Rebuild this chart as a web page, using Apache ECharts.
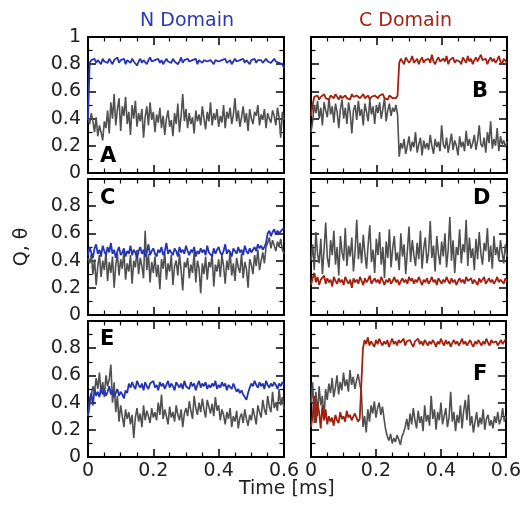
<!DOCTYPE html>
<html>
<head>
<meta charset="utf-8">
<script src="https://cdn.jsdelivr.net/npm/echarts@6/dist/echarts.min.js"></script>
<style>
  html, body { margin: 0; background: #fff; }
  #chart { width: 524px; height: 511px; }
</style>
</head>
<body>
<div id="chart"></div>
<script>
// sampling step of every trace (ms), index i sits at t = i * STEP
const STEP = 0.005;

// Panel A, N domain
const aQ = [0.40,
  0.81,0.83,0.82,0.84,0.81,0.83,0.82,0.80,0.84,0.82,
  0.83,0.81,0.84,0.82,0.80,0.83,0.82,0.85,0.81,0.83,
  0.82,0.84,0.80,0.83,0.82,0.81,0.84,0.82,0.83,0.79,
  0.82,0.84,0.81,0.83,0.82,0.80,0.83,0.85,0.82,0.81,
  0.83,0.82,0.84,0.81,0.83,0.80,0.82,0.84,0.82,0.83,
  0.81,0.84,0.82,0.83,0.80,0.82,0.85,0.81,0.83,0.82,
  0.84,0.82,0.81,0.83,0.82,0.84,0.80,0.83,0.82,0.81,
  0.83,0.84,0.82,0.81,0.83,0.82,0.80,0.83,0.84,0.82,
  0.81,0.83,0.82,0.84,0.81,0.82,0.83,0.80,0.82,0.84,
  0.82,0.81,0.83,0.82,0.84,0.81,0.83,0.82,0.80,0.83,
  0.82,0.84,0.81,0.83,0.82,0.83,0.81,0.82,0.84,0.82,
  0.83,0.81,0.82,0.84,0.82,0.83,0.81,0.82,0.80,0.77];
const aTheta = [0.40,
  0.36,0.44,0.38,0.30,0.41,0.27,0.35,0.30,0.24,0.38,
  0.33,0.46,0.29,0.52,0.40,0.58,0.35,0.47,0.55,0.31,
  0.49,0.42,0.56,0.36,0.45,0.28,0.50,0.40,0.53,0.34,
  0.44,0.38,0.47,0.26,0.41,0.49,0.35,0.52,0.39,0.45,
  0.30,0.43,0.37,0.48,0.33,0.42,0.28,0.40,0.46,0.34,
  0.39,0.27,0.44,0.36,0.51,0.30,0.42,0.58,0.38,0.47,
  0.33,0.44,0.36,0.41,0.29,0.46,0.38,0.43,0.35,0.49,
  0.40,0.32,0.45,0.38,0.52,0.35,0.44,0.39,0.47,0.34,
  0.42,0.37,0.50,0.33,0.45,0.40,0.48,0.36,0.43,0.55,
  0.38,0.46,0.34,0.41,0.49,0.37,0.44,0.31,0.47,0.40,
  0.36,0.45,0.42,0.50,0.35,0.43,0.39,0.47,0.33,0.44,
  0.40,0.37,0.46,0.42,0.35,0.48,0.41,0.26,0.45,0.39];

// Panel B, C domain
const bQ = [0.42,
  0.50,0.56,0.55,0.57,0.54,0.56,0.55,0.58,0.55,0.56,
  0.54,0.57,0.56,0.55,0.58,0.56,0.54,0.57,0.55,0.56,
  0.57,0.55,0.56,0.54,0.58,0.56,0.55,0.57,0.56,0.55,
  0.56,0.58,0.55,0.56,0.57,0.54,0.56,0.55,0.57,0.56,
  0.55,0.57,0.56,0.58,0.55,0.56,0.54,0.57,0.56,0.55,
  0.56,0.55,0.57,0.81,0.84,0.82,0.80,0.85,0.83,0.81,
  0.83,0.86,0.81,0.82,0.84,0.80,0.83,0.85,0.81,0.83,
  0.82,0.84,0.81,0.87,0.82,0.80,0.83,0.85,0.82,0.81,
  0.84,0.82,0.86,0.80,0.83,0.82,0.85,0.81,0.83,0.84,
  0.82,0.80,0.85,0.83,0.81,0.86,0.82,0.84,0.80,0.83,
  0.85,0.82,0.81,0.87,0.83,0.82,0.84,0.80,0.83,0.85,
  0.82,0.84,0.81,0.83,0.86,0.82,0.80,0.84,0.83,0.81];
const bTheta = [0.30,
  0.38,0.50,0.44,0.53,0.40,0.48,0.35,0.52,0.46,0.41,
  0.55,0.43,0.49,0.37,0.51,0.45,0.33,0.47,0.54,0.40,
  0.48,0.36,0.52,0.44,0.29,0.46,0.50,0.39,0.53,0.42,
  0.47,0.35,0.51,0.45,0.38,0.54,0.43,0.49,0.36,0.50,
  0.44,0.52,0.40,0.47,0.55,0.38,0.46,0.51,0.42,0.48,
  0.45,0.50,0.43,0.12,0.22,0.18,0.25,0.14,0.20,0.27,
  0.16,0.23,0.19,0.30,0.15,0.21,0.26,0.13,0.24,0.18,
  0.22,0.17,0.28,0.20,0.14,0.25,0.19,0.23,0.16,0.35,
  0.21,0.18,0.26,0.15,0.22,0.29,0.17,0.24,0.20,0.13,
  0.27,0.19,0.23,0.16,0.31,0.20,0.25,0.18,0.22,0.28,
  0.17,0.24,0.35,0.21,0.19,0.26,0.15,0.30,0.22,0.38,
  0.18,0.25,0.20,0.33,0.16,0.27,0.21,0.24,0.19,0.23];

// Panel C, N domain
const cQ = [0.44,
  0.50,0.46,0.42,0.49,0.52,0.45,0.48,0.43,0.51,0.47,
  0.44,0.50,0.46,0.53,0.45,0.48,0.42,0.47,0.50,0.44,
  0.46,0.49,0.43,0.47,0.45,0.51,0.44,0.48,0.46,0.42,
  0.47,0.50,0.45,0.48,0.43,0.46,0.52,0.44,0.47,0.49,
  0.45,0.43,0.48,0.46,0.50,0.44,0.47,0.53,0.45,0.48,
  0.46,0.44,0.49,0.47,0.43,0.50,0.46,0.48,0.45,0.51,
  0.47,0.44,0.48,0.46,0.50,0.43,0.47,0.45,0.49,0.46,
  0.48,0.44,0.51,0.46,0.47,0.43,0.49,0.45,0.48,0.50,
  0.46,0.44,0.47,0.52,0.45,0.48,0.46,0.43,0.49,0.47,
  0.45,0.50,0.46,0.48,0.44,0.51,0.47,0.45,0.49,0.46,
  0.48,0.50,0.47,0.52,0.49,0.51,0.48,0.50,0.53,0.60,
  0.62,0.58,0.61,0.63,0.59,0.62,0.60,0.61,0.63,0.64];
const cTheta = [0.42,
  0.38,0.45,0.30,0.41,0.22,0.36,0.44,0.28,0.40,0.33,
  0.46,0.25,0.39,0.31,0.43,0.20,0.37,0.45,0.29,0.41,
  0.34,0.47,0.26,0.38,0.32,0.44,0.23,0.40,0.35,0.48,
  0.30,0.42,0.36,0.27,0.62,0.33,0.45,0.24,0.39,0.31,
  0.43,0.28,0.37,0.19,0.41,0.34,0.46,0.26,0.38,0.32,
  0.44,0.22,0.36,0.40,0.29,0.45,0.33,0.18,0.39,0.35,
  0.42,0.27,0.37,0.31,0.46,0.24,0.40,0.34,0.16,0.38,
  0.30,0.43,0.26,0.39,0.35,0.45,0.21,0.37,0.32,0.41,
  0.28,0.44,0.36,0.23,0.40,0.33,0.47,0.29,0.38,0.25,
  0.42,0.35,0.31,0.45,0.27,0.39,0.34,0.20,0.41,0.37,
  0.30,0.44,0.36,0.48,0.33,0.40,0.46,0.38,0.50,0.53,
  0.57,0.49,0.55,0.51,0.47,0.54,0.50,0.56,0.48,0.45];

// Panel D, C domain
const dQ = [0.22,
  0.27,0.31,0.24,0.28,0.22,0.26,0.25,0.29,0.23,0.27,
  0.24,0.26,0.21,0.28,0.25,0.23,0.27,0.24,0.26,0.22,
  0.28,0.25,0.23,0.26,0.20,0.27,0.24,0.26,0.23,0.28,
  0.25,0.22,0.27,0.24,0.26,0.29,0.23,0.25,0.27,0.24,
  0.26,0.23,0.28,0.25,0.22,0.26,0.24,0.27,0.23,0.25,
  0.28,0.24,0.26,0.22,0.25,0.27,0.24,0.26,0.23,0.28,
  0.25,0.27,0.23,0.26,0.24,0.28,0.25,0.22,0.26,0.24,
  0.27,0.23,0.25,0.28,0.24,0.26,0.22,0.27,0.25,0.23,
  0.26,0.24,0.28,0.25,0.23,0.27,0.24,0.26,0.22,0.25,
  0.27,0.24,0.26,0.23,0.28,0.25,0.24,0.27,0.23,0.26,
  0.25,0.22,0.27,0.24,0.26,0.28,0.23,0.25,0.27,0.24,
  0.26,0.23,0.25,0.28,0.24,0.26,0.25,0.23,0.27,0.25];
const dTheta = [0.40,
  0.52,0.33,0.61,0.45,0.38,0.56,0.30,0.48,0.68,0.42,
  0.35,0.55,0.44,0.62,0.37,0.50,0.29,0.58,0.46,0.40,
  0.64,0.36,0.51,0.43,0.57,0.32,0.47,0.70,0.41,0.53,
  0.38,0.59,0.45,0.34,0.52,0.66,0.39,0.48,0.31,0.56,
  0.44,0.61,0.37,0.50,0.27,0.54,0.42,0.63,0.35,0.49,
  0.58,0.40,0.46,0.33,0.60,0.43,0.52,0.30,0.47,0.65,
  0.39,0.55,0.44,0.36,0.53,0.41,0.62,0.34,0.49,0.57,
  0.38,0.46,0.69,0.42,0.51,0.32,0.58,0.45,0.37,0.54,
  0.43,0.60,0.35,0.48,0.72,0.40,0.55,0.31,0.50,0.44,
  0.63,0.38,0.52,0.46,0.70,0.36,0.57,0.42,0.49,0.33,
  0.56,0.41,0.61,0.45,0.37,0.53,0.47,0.64,0.39,0.51,
  0.34,0.58,0.44,0.50,0.40,0.55,0.46,0.38,0.52,0.43];

// Panel E, N domain
const eQ = [0.30,
  0.42,0.47,0.38,0.50,0.45,0.48,0.44,0.51,0.46,0.49,
  0.45,0.48,0.52,0.46,0.49,0.44,0.47,0.50,0.45,0.48,
  0.46,0.43,0.49,0.47,0.54,0.51,0.55,0.52,0.50,0.56,
  0.53,0.51,0.54,0.49,0.55,0.52,0.50,0.54,0.53,0.56,
  0.51,0.53,0.49,0.55,0.52,0.54,0.50,0.53,0.56,0.51,
  0.54,0.52,0.49,0.55,0.53,0.51,0.54,0.50,0.56,0.52,
  0.53,0.50,0.55,0.52,0.54,0.49,0.53,0.56,0.51,0.54,
  0.52,0.55,0.50,0.53,0.51,0.54,0.52,0.56,0.50,0.53,
  0.51,0.55,0.52,0.54,0.49,0.53,0.52,0.50,0.54,0.51,
  0.48,0.50,0.47,0.49,0.46,0.44,0.42,0.47,0.51,0.54,
  0.52,0.56,0.53,0.51,0.55,0.52,0.54,0.50,0.56,0.53,
  0.51,0.54,0.52,0.55,0.53,0.50,0.54,0.52,0.55,0.53];
const eTheta = [0.30,
  0.38,0.45,0.52,0.48,0.58,0.50,0.62,0.47,0.55,0.44,
  0.60,0.52,0.57,0.68,0.40,0.55,0.33,0.45,0.26,0.38,
  0.30,0.22,0.35,0.28,0.33,0.24,0.31,0.14,0.29,0.36,
  0.26,0.32,0.22,0.38,0.27,0.34,0.30,0.25,0.36,0.29,
  0.33,0.27,0.40,0.31,0.46,0.28,0.35,0.30,0.24,0.37,
  0.29,0.33,0.26,0.38,0.31,0.27,0.35,0.22,0.32,0.36,
  0.30,0.41,0.34,0.28,0.45,0.36,0.31,0.40,0.33,0.43,
  0.35,0.29,0.42,0.37,0.32,0.39,0.30,0.44,0.34,0.38,
  0.27,0.35,0.31,0.24,0.33,0.28,0.36,0.22,0.30,0.26,
  0.34,0.21,0.29,0.32,0.25,0.35,0.28,0.23,0.31,0.27,
  0.36,0.30,0.24,0.38,0.33,0.29,0.42,0.35,0.31,0.45,
  0.37,0.33,0.48,0.36,0.40,0.34,0.50,0.38,0.44,0.35];

// Panel F, C domain
const fQ = [0.22,
  0.30,0.45,0.25,0.40,0.33,0.21,0.38,0.27,0.35,0.24,
  0.30,0.26,0.29,0.23,0.31,0.27,0.25,0.33,0.28,0.30,
  0.26,0.34,0.29,0.31,0.27,0.28,0.32,0.29,0.26,0.28,
  0.27,0.80,0.86,0.83,0.88,0.82,0.85,0.84,0.81,0.86,
  0.83,0.87,0.84,0.82,0.85,0.83,0.86,0.81,0.84,0.87,
  0.83,0.85,0.82,0.86,0.84,0.83,0.87,0.82,0.85,0.84,
  0.86,0.83,0.81,0.85,0.84,0.87,0.83,0.85,0.82,0.86,
  0.84,0.82,0.85,0.83,0.86,0.84,0.81,0.85,0.83,0.87,
  0.84,0.82,0.86,0.83,0.85,0.81,0.84,0.86,0.83,0.85,
  0.82,0.84,0.87,0.83,0.85,0.82,0.84,0.86,0.83,0.81,
  0.85,0.83,0.86,0.84,0.82,0.85,0.83,0.87,0.84,0.82,
  0.86,0.84,0.83,0.85,0.82,0.84,0.86,0.83,0.85,0.87];
const fTheta = [0.40,
  0.55,0.25,0.48,0.30,0.52,0.38,0.45,0.28,0.50,0.42,
  0.54,0.47,0.58,0.44,0.51,0.60,0.46,0.55,0.49,0.62,
  0.52,0.57,0.48,0.64,0.53,0.59,0.50,0.56,0.61,0.54,
  0.48,0.22,0.30,0.18,0.35,0.26,0.38,0.32,0.41,0.29,
  0.36,0.40,0.31,0.37,0.28,0.20,0.15,0.12,0.17,0.10,
  0.14,0.11,0.16,0.13,0.09,0.15,0.18,0.22,0.28,0.20,
  0.32,0.24,0.36,0.27,0.21,0.34,0.25,0.30,0.19,0.38,
  0.26,0.31,0.23,0.45,0.28,0.35,0.20,0.33,0.27,0.40,
  0.24,0.30,0.36,0.22,0.29,0.48,0.26,0.33,0.19,0.31,
  0.25,0.38,0.21,0.34,0.42,0.27,0.46,0.23,0.30,0.18,
  0.26,0.33,0.22,0.29,0.24,0.35,0.20,0.28,0.31,0.23,
  0.27,0.21,0.30,0.25,0.33,0.24,0.28,0.36,0.26,0.30];

const BLUE = '#2234b4';
const RED = '#a3200f';
const GRAY = '#505050';
const FONT = '"DejaVu Sans", "Liberation Sans", sans-serif';

const COL_LEFT = [88, 311];
const ROW_TOP = [37, 179, 321];
const PANEL_W = 196;
const PANEL_H = 136;

const panels = [
  { row: 0, col: 0, q: aQ, theta: aTheta, color: BLUE, letter: 'A', lx: 100, ly: 146 },
  { row: 0, col: 1, q: bQ, theta: bTheta, color: RED, letter: 'B', lx: 472, ly: 81 },
  { row: 1, col: 0, q: cQ, theta: cTheta, color: BLUE, letter: 'C', lx: 100, ly: 188 },
  { row: 1, col: 1, q: dQ, theta: dTheta, color: RED, letter: 'D', lx: 473, ly: 188 },
  { row: 2, col: 0, q: eQ, theta: eTheta, color: BLUE, letter: 'E', lx: 100, ly: 329 },
  { row: 2, col: 1, q: fQ, theta: fTheta, color: RED, letter: 'F', lx: 473, ly: 364 },
];

const toPoints = (arr) => arr.map((v, i) => [+(i * STEP).toFixed(3), v]);

// every axis gets its own fresh objects
function frameAxis(gridIndex, max, minorSplit) {
  return {
    show: true,
    gridIndex,
    type: 'value',
    min: 0,
    max,
    interval: 0.2,
    axisLine: { show: true, onZero: false, lineStyle: { color: '#000', width: 2 } },
    axisTick: { show: true, inside: true, length: 8, lineStyle: { color: '#000', width: 1.5 } },
    minorTick: { show: true, splitNumber: minorSplit, length: 4.5, lineStyle: { color: '#000', width: 1.2 } },
    splitLine: { show: false },
  };
}

const labelStyle = () => ({ color: '#222', fontSize: 19, fontFamily: FONT });

const grids = [];
const xAxes = [];
const yAxes = [];
const series = [];
const titles = [];

panels.forEach((p, i) => {
  // grid border keeps the box closed on all four sides
  grids.push({
    left: COL_LEFT[p.col], top: ROW_TOP[p.row], width: PANEL_W, height: PANEL_H,
    show: true, borderColor: '#000', borderWidth: 1.5, backgroundColor: 'transparent',
  });

  const xb = frameAxis(i, 0.6, 4);
  xb.position = 'bottom';
  xb.axisLabel = { show: p.row === 2, margin: 5, ...labelStyle() };
  const xt = frameAxis(i, 0.6, 4);
  xt.position = 'top';
  xt.axisLabel = { show: false };
  xAxes.push(xb, xt);

  const yl = frameAxis(i, 1, 2);
  yl.position = 'left';
  yl.axisLabel = { show: p.col === 0, margin: 7, showMaxLabel: p.row === 0, ...labelStyle() };
  if (p.row === 1 && p.col === 0) {
    yl.name = 'Q, θ';
    yl.nameLocation = 'middle';
    yl.nameGap = 56;
    yl.nameTextStyle = labelStyle();
  }
  const yr = frameAxis(i, 1, 2);
  yr.position = 'right';
  yr.axisLabel = { show: false };
  yAxes.push(yl, yr);

  series.push({
    type: 'line', xAxisIndex: i * 2, yAxisIndex: i * 2, data: toPoints(p.theta),
    showSymbol: false, lineStyle: { color: GRAY, width: 1.6 },
  });
  series.push({
    type: 'line', xAxisIndex: i * 2, yAxisIndex: i * 2, data: toPoints(p.q),
    showSymbol: false, lineStyle: { color: p.color, width: 1.8 },
  });

  titles.push({
    text: p.letter, left: p.lx, top: p.ly, padding: 0,
    textStyle: { fontSize: 21, fontWeight: 'bold', color: '#000', fontFamily: FONT },
  });
});

titles.push(
  { text: 'N Domain', left: 140, top: 12, padding: 0, textStyle: { fontSize: 19, fontWeight: 'normal', color: '#2a3aae', fontFamily: FONT } },
  { text: 'C Domain', left: 359, top: 12, padding: 0, textStyle: { fontSize: 19, fontWeight: 'normal', color: '#a52419', fontFamily: FONT } },
  { text: 'Time [ms]', left: 239, top: 480, padding: 0, textStyle: { fontSize: 19, fontWeight: 'normal', color: '#222', fontFamily: FONT } }
);

const chart = echarts.init(document.getElementById('chart'));
chart.setOption({
  animation: false,
  title: titles,
  grid: grids,
  xAxis: xAxes,
  yAxis: yAxes,
  series,
});
</script>
</body>
</html>
